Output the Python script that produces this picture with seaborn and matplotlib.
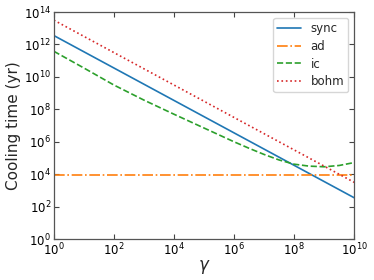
import numpy as np
import pandas as pd
import seaborn as sns
import matplotlib
matplotlib.use("Agg")
import matplotlib.pyplot as plt

# Cooling time vs Lorentz factor
log_gamma_lines = [0, 10]
sync_log_t = [12.55, 2.55]
bohm_log_t = [13.5, 3.5]
ad_log_t = [3.93, 3.93]

log_gamma_ic = [0, 1, 2, 3, 4, 5, 6, 6.5, 7, 7.5, 8, 8.5, 9, 9.5, 10]
ic_log_t = [11.58, 10.55, 9.5, 8.57, 7.7, 6.85, 6.0, 5.6, 5.22, 4.88, 4.62, 4.5, 4.46, 4.54, 4.72]

series = [
    ("sync", log_gamma_lines, sync_log_t, "#1f77b4", "-"),
    ("ad", log_gamma_lines, ad_log_t, "#ff7f0e", "-."),
    ("ic", log_gamma_ic, ic_log_t, "#2ca02c", "--"),
    ("bohm", log_gamma_lines, bohm_log_t, "#d62728", ":"),
]

sns.set_style("ticks")
plt.rcParams["font.family"] = ["DejaVu Sans"]
plt.rcParams["mathtext.fontset"] = "dejavusans"

fig, ax = plt.subplots(figsize=(3.74, 2.80), dpi=100)
fig.subplots_adjust(left=0.144, right=0.947, top=0.957, bottom=0.146)

for name, lg, lt, col, ls in series:
    df = pd.DataFrame({"gamma": 10.0 ** np.array(lg), "t": 10.0 ** np.array(lt)})
    sns.lineplot(data=df, x="gamma", y="t", ax=ax, label=name, color=col,
                 linestyle=ls, linewidth=1.2, estimator=None, sort=False)

ax.set_xscale("log")
ax.set_yscale("log")
ax.set_xlim(1, 1e10)
ax.set_ylim(1, 1e14)
ax.set_xticks([10.0 ** k for k in range(0, 11, 2)])
ax.set_yticks([10.0 ** k for k in range(0, 15, 2)])
ax.set_xticklabels([rf"$10^{{{k}}}$" for k in range(0, 11, 2)])
ax.set_yticklabels([rf"$10^{{{k}}}$" for k in range(0, 15, 2)])
ax.minorticks_off()
ax.tick_params(direction="in", top=True, right=True, length=3.5, width=0.8,
               labelsize=8.5, colors="#444444", labelcolor="black", pad=2)
for s in ax.spines.values():
    s.set_color("#555555")
    s.set_linewidth(0.9)

ax.set_xlabel(r"$\gamma$", fontsize=12, labelpad=0)
ax.set_ylabel("Cooling time (yr)", fontsize=11, labelpad=2)
ax.legend(loc="upper right", fontsize=8.5, frameon=True, fancybox=True,
          handlelength=2.0, labelspacing=0.4, borderpad=0.35)

fig.savefig("out.png", dpi=100)
